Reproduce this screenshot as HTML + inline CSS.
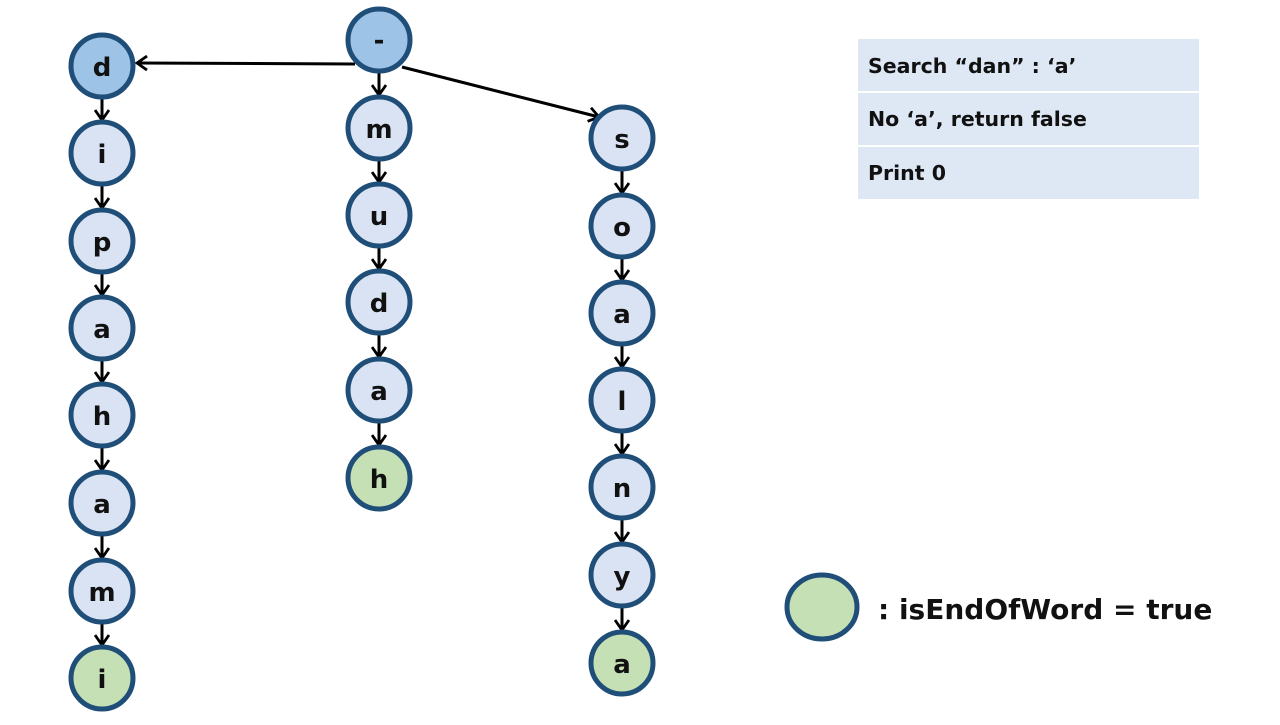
<!DOCTYPE html>
<html><head><meta charset="utf-8"><style>
html,body{margin:0;padding:0;background:#fff;}
svg text{font-family:"DejaVu Sans","Liberation Sans",sans-serif;font-weight:bold;}
</style></head><body>
<svg width="1280" height="720" viewBox="0 0 1280 720" xmlns="http://www.w3.org/2000/svg">
<defs>
<marker id="a" markerWidth="16" markerHeight="16" refX="12" refY="8" orient="auto" markerUnits="userSpaceOnUse">
<path d="M2,1 L12,8 L2,15" fill="none" stroke="#000" stroke-width="2.8"/>
</marker>
</defs>
<g stroke="#000" stroke-width="3" marker-end="url(#a)">
<line x1="355" y1="64" x2="137" y2="63"/>
<line x1="402" y1="67" x2="599" y2="117"/>
<line x1="102" y1="99" x2="102" y2="120"/>
<line x1="102" y1="186" x2="102" y2="208"/>
<line x1="102" y1="274" x2="102" y2="295"/>
<line x1="102" y1="361" x2="102" y2="382"/>
<line x1="102" y1="448" x2="102" y2="470"/>
<line x1="102" y1="536" x2="102" y2="558"/>
<line x1="102" y1="624" x2="102" y2="645"/>
<line x1="379" y1="73" x2="379" y2="95"/>
<line x1="379" y1="161" x2="379" y2="182"/>
<line x1="379" y1="248" x2="379" y2="269"/>
<line x1="379" y1="335" x2="379" y2="357"/>
<line x1="379" y1="423" x2="379" y2="445"/>
<line x1="622" y1="171" x2="622" y2="193"/>
<line x1="622" y1="259" x2="622" y2="280"/>
<line x1="622" y1="346" x2="622" y2="367"/>
<line x1="622" y1="433" x2="622" y2="454"/>
<line x1="622" y1="520" x2="622" y2="542"/>
<line x1="622" y1="608" x2="622" y2="630"/>
</g>
<g stroke="#1f4e79" stroke-width="5">
<circle cx="379" cy="40" r="31" fill="#9dc3e6"/>
<circle cx="102" cy="66" r="31" fill="#9dc3e6"/>
<circle cx="102" cy="153" r="31" fill="#dae3f3"/>
<circle cx="102" cy="241" r="31" fill="#dae3f3"/>
<circle cx="102" cy="328" r="31" fill="#dae3f3"/>
<circle cx="102" cy="415" r="31" fill="#dae3f3"/>
<circle cx="102" cy="503" r="31" fill="#dae3f3"/>
<circle cx="102" cy="591" r="31" fill="#dae3f3"/>
<circle cx="102" cy="678" r="31" fill="#c5e0b4"/>
<circle cx="379" cy="128" r="31" fill="#dae3f3"/>
<circle cx="379" cy="215" r="31" fill="#dae3f3"/>
<circle cx="379" cy="302" r="31" fill="#dae3f3"/>
<circle cx="379" cy="390" r="31" fill="#dae3f3"/>
<circle cx="379" cy="478" r="31" fill="#c5e0b4"/>
<circle cx="622" cy="138" r="31" fill="#dae3f3"/>
<circle cx="622" cy="226" r="31" fill="#dae3f3"/>
<circle cx="622" cy="313" r="31" fill="#dae3f3"/>
<circle cx="622" cy="400" r="31" fill="#dae3f3"/>
<circle cx="622" cy="487" r="31" fill="#dae3f3"/>
<circle cx="622" cy="575" r="31" fill="#dae3f3"/>
<circle cx="622" cy="663" r="31" fill="#c5e0b4"/>
<ellipse cx="822" cy="607" rx="35" ry="32" fill="#c5e0b4"/>
</g>
<g font-size="26" text-anchor="middle" fill="#111">
<text x="379" y="49">-</text>
<text x="102" y="76">d</text>
<text x="102" y="163">i</text>
<text x="102" y="251">p</text>
<text x="102" y="338">a</text>
<text x="102" y="425">h</text>
<text x="102" y="513">a</text>
<text x="102" y="601">m</text>
<text x="102" y="688">i</text>
<text x="379" y="138">m</text>
<text x="379" y="225">u</text>
<text x="379" y="312">d</text>
<text x="379" y="400">a</text>
<text x="379" y="488">h</text>
<text x="622" y="148">s</text>
<text x="622" y="236">o</text>
<text x="622" y="323">a</text>
<text x="622" y="410">l</text>
<text x="622" y="497">n</text>
<text x="622" y="585">y</text>
<text x="622" y="673">a</text>
</g>
<text x="878" y="619" font-size="28" fill="#111">: isEndOfWord = true</text>
<g fill="#dee8f5">
<rect x="858" y="39" width="341" height="52"/>
<rect x="858" y="93" width="341" height="52"/>
<rect x="858" y="147" width="341" height="52"/>
</g>
<g font-size="20.5" fill="#111">
<text x="868" y="73">Search “dan” : ‘a’</text>
<text x="868" y="126">No ‘a’, return false</text>
<text x="868" y="180">Print 0</text>
</g>
</svg>
</body></html>
